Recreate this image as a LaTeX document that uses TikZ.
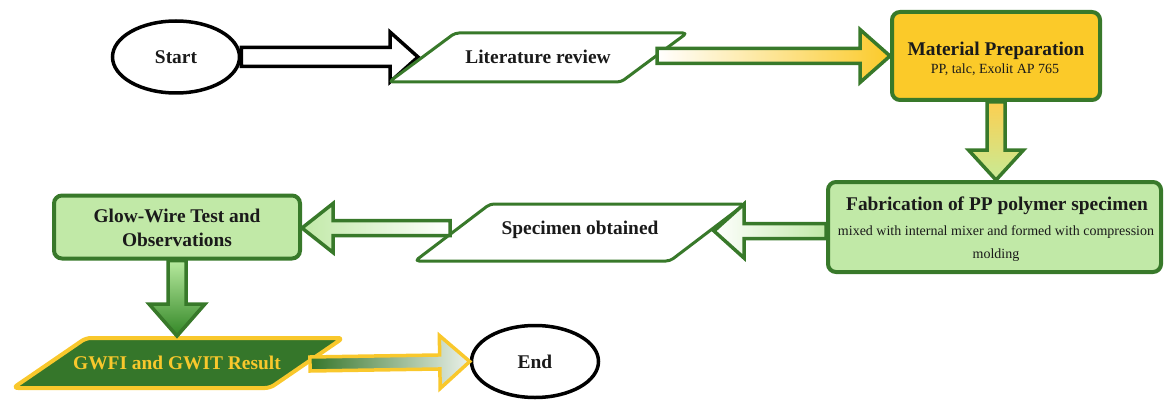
\documentclass[tikz,border=0pt]{standalone}
\usepackage{fontspec}
\setmainfont{Liberation Serif}
\usetikzlibrary{shapes.geometric,calc}

\definecolor{leaf}{HTML}{38792A}
\definecolor{gold}{HTML}{FBCA29}
\definecolor{mint}{HTML}{C1E9A7}
\definecolor{forest}{HTML}{35762A}
\definecolor{ink}{HTML}{1A1A1A}
\definecolor{amber}{HTML}{F9C82C}

\tikzset{
  titletext/.style={font=\fontsize{19.4}{24}\selectfont\bfseries, text=ink, anchor=base, inner sep=0pt},
  subtext/.style={font=\fontsize{14}{16}\selectfont, text=ink, anchor=base, inner sep=0pt},
  terminal/.style={ellipse, draw=black, line width=3.5pt, fill=white, inner sep=0pt,
                   minimum width=127pt, minimum height=72pt},
  procbox/.style={rectangle, rounded corners=8pt, draw=leaf, line width=4pt, inner sep=0pt},
  ioshape/.style={draw=leaf, line width=3pt, fill=white, rounded corners=4pt, line join=round},
  flow/.style={line width=3.5pt, line join=miter, draw=leaf},
}

% block arrow: style, from, to, shaft half-width, head half-width, head length
\newcommand{\blockarrow}[6]{%
  \coordinate (ba-base) at ($(#3)!#6!(#2)$);
  \draw[#1] ($(#2)!#4!90:(#3)$) -- ($(ba-base)!#4!90:(#3)$) -- ($(ba-base)!#5!90:(#3)$)
    -- (#3) -- ($(ba-base)!#5!-90:(#3)$) -- ($(ba-base)!#4!-90:(#3)$)
    -- ($(#2)!#4!-90:(#3)$) -- cycle;
}

\begin{document}
\begin{tikzpicture}[x=1pt, y=-1pt]
\useasboundingbox (0,0) rectangle (1166,401);

% Start
\node[terminal] (start) at (176,57) {};
\node[titletext] (start-label) at (176,63.5) {Start};

% Start -> Literature review
\coordinate (lit-in) at (418,57);
\blockarrow{flow, draw=black, fill=white}{start.east}{lit-in}{9.5pt}{25pt}{28pt}

% Literature review
\draw[ioshape] (389,82) -- (455,33) -- (687,33) -- (621,82) -- cycle;
\node[titletext] (lit) at (538,63.5) {Literature review};
\coordinate (lit-out) at (657,56);

% Material preparation
\node[procbox, fill=gold, minimum width=208pt, minimum height=88pt] (mat) at (996,56) {};
\node[titletext] (mat-title) at (996,55.5) {Material Preparation};
\node[subtext] (mat-sub) at (995,74) {PP, talc, Exolit AP 765};

\blockarrow{flow, left color=white, right color=gold}{lit-out}{mat.west}{7.5pt}{26.5pt}{30pt}

% Fabrication
\node[procbox, fill=mint, minimum width=333pt, minimum height=90pt] (fab) at (994.5,227) {};
\node[titletext] (fab-title) at (997,210.5) {Fabrication of PP polymer specimen};
\node[subtext] (fab-sub1) at (996,235) {mixed with internal mixer and formed with compression};
\node[subtext] (fab-sub2) at (996,258.5) {molding};

\coordinate (fab-in) at (mat.south |- fab.north);
\blockarrow{flow, top color=gold!90!orange!80!white, bottom color=mint!90!yellow}{mat.south}{fab-in}{9pt}{27.5pt}{30pt}

% Specimen obtained
\draw[ioshape] (415,261) -- (490,204) -- (745,204) -- (670,261) -- cycle;
\node[titletext] (spec) at (580,234.5) {Specimen obtained};
\coordinate (spec-in) at (714,231);
\coordinate (spec-out) at (450,228);

\blockarrow{flow, left color=white, right color=mint}{fab.west |- spec-in}{spec-in}{7.5pt}{27pt}{30pt}

% Glow-wire test
\node[procbox, fill=mint, minimum width=246pt, minimum height=63pt] (glow) at (177,227) {};
\node[titletext] (glow-l1) at (177,222.5) {Glow-Wire Test and};
\node[titletext] (glow-l2) at (177,246.5) {Observations};

\blockarrow{flow, left color=mint, right color=white}{spec-out}{glow.east |- spec-out}{7.5pt}{24.5pt}{31pt}

% GWFI and GWIT result
\draw[draw=amber, fill=forest, line width=4pt, rounded corners=5pt, line join=round]
  (13,388) -- (86,338) -- (343,338) -- (270,388) -- cycle;
\node[titletext, text=amber] (gwfi) at (177,369.5) {GWFI and GWIT Result};
\coordinate (gwfi-in) at (177,336);
\coordinate (gwfi-out) at (310,364);

\blockarrow{flow, top color=mint!95!green, bottom color=leaf!90!green}{glow.south}{gwfi-in}{9pt}{28pt}{32pt}

% End
\node[terminal] (end) at (535,361.5) {};
\node[titletext] (end-label) at (535,368) {End};

\blockarrow{flow, draw=amber, left color=forest, right color=white!90!forest}{gwfi-out}{end.west}{7pt}{26.5pt}{30pt}

\end{tikzpicture}
\end{document}
